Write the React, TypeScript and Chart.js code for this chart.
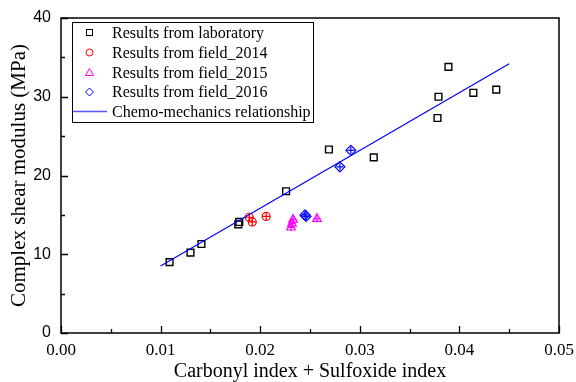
import React, { useEffect, useRef } from "react";
import { Chart, registerables } from "chart.js";

Chart.register(...registerables);

const labX = [0.0109, 0.0130, 0.0141, 0.0178, 0.0179, 0.0226, 0.0269, 0.0314, 0.0378, 0.0379, 0.0389, 0.0414, 0.0437];
const labY = [9.0, 10.2, 11.3, 13.8, 14.1, 18.0, 23.3, 22.3, 27.3, 30.0, 33.8, 30.5, 30.9];

const f14X = [0.0189, 0.0192, 0.0206];
const f14Y = [14.7, 14.1, 14.8];

const f15X = [0.0233, 0.0232, 0.0231, 0.0257];
const f15Y = [14.4, 13.9, 13.4, 14.5];

const f16X = [0.0245, 0.0246, 0.0280, 0.0291];
const f16Y = [15.0, 14.8, 21.1, 23.2];

const lineX = [0.01, 0.045];
const lineY = [8.5, 34.2];

const xTicks = [0, 0.01, 0.02, 0.03, 0.04, 0.05];
const yTicks = [0, 10, 20, 30, 40];

const legendLabels = [
  "Results from laboratory",
  "Results from field_2014",
  "Results from field_2015",
  "Results from field_2016",
  "Chemo-mechanics relationship",
];

const pts = (xs: number[], ys: number[]) => xs.map((x, i) => ({ x, y: ys[i] }));

export default function App() {
  const ref = useRef<HTMLCanvasElement | null>(null);
  useEffect(() => {
    if (!ref.current) return;
    const frameTicks = {
      id: "frameTicks",
      afterDraw(chart: any) {
        const { ctx, chartArea: a, scales } = chart;
        const xs = scales.x;
        const ys = scales.y;
        ctx.save();
        ctx.strokeStyle = "#000";
        ctx.lineWidth = 1.5;
        ctx.strokeRect(a.left, a.top, a.right - a.left, a.bottom - a.top);
        ctx.lineWidth = 1.3;
        ctx.beginPath();
        for (let v = 0; v <= 0.0501; v += 0.005) {
          const px = Math.round(xs.getPixelForValue(v)) + 0.5;
          const major = Math.abs(v / 0.01 - Math.round(v / 0.01)) < 1e-6;
          const len = major ? 7 : 4;
          ctx.moveTo(px, a.bottom);
          ctx.lineTo(px, a.bottom - len);
        }
        for (let v = 0; v <= 40.01; v += 5) {
          const py = Math.round(ys.getPixelForValue(v)) + 0.5;
          const major = v % 10 === 0;
          const len = major ? 7 : 4;
          ctx.moveTo(a.left, py);
          ctx.lineTo(a.left + len, py);
        }
        ctx.stroke();

        // legend
        const bx = 72, by = 22, bw = 241, bh = 100;
        ctx.fillStyle = "#fff";
        ctx.fillRect(bx, by, bw, bh);
        ctx.lineWidth = 1;
        ctx.strokeStyle = "#000";
        ctx.strokeRect(bx + 0.5, by + 0.5, bw, bh);
        const rows = [32.5, 52.5, 72.5, 92, 111.5];
        const mx = 89.5;
        ctx.font = '16px "Liberation Serif", serif';
        ctx.textBaseline = "middle";
        ctx.textAlign = "left";
        ctx.fillStyle = "#000";
        legendLabels.forEach((t, i) => ctx.fillText(t, 112, rows[i] + 1));
        ctx.lineWidth = 1;
        ctx.strokeStyle = "#000";
        ctx.strokeRect(mx - 3, rows[0] - 3, 6, 6);
        ctx.strokeStyle = "#ff0000";
        ctx.beginPath();
        ctx.arc(mx, rows[1], 3.5, 0, Math.PI * 2);
        ctx.stroke();
        ctx.strokeStyle = "#ff00ff";
        ctx.beginPath();
        ctx.moveTo(mx, rows[2] - 4);
        ctx.lineTo(mx + 4, rows[2] + 3);
        ctx.lineTo(mx - 4, rows[2] + 3);
        ctx.closePath();
        ctx.stroke();
        ctx.strokeStyle = "#0000ff";
        ctx.beginPath();
        ctx.moveTo(mx, rows[3] - 4);
        ctx.lineTo(mx + 4, rows[3]);
        ctx.lineTo(mx, rows[3] + 4);
        ctx.lineTo(mx - 4, rows[3]);
        ctx.closePath();
        ctx.stroke();
        ctx.strokeStyle = "#5555ff";
        ctx.lineWidth = 1.5;
        ctx.beginPath();
        ctx.moveTo(73, rows[4]);
        ctx.lineTo(107, rows[4]);
        ctx.stroke();
        ctx.restore();
      },
    };

    const scatter = (data: any, color: string, style: string, r: number, extra: any = {}) => ({
      type: "scatter",
      data,
      pointStyle: style,
      pointRadius: r,
      borderColor: color,
      backgroundColor: "rgba(0,0,0,0)",
      pointBorderWidth: 1.2,
      ...extra,
    });

    const chart = new Chart(ref.current, {
      type: "scatter",
      data: {
        datasets: [
          {
            type: "line",
            data: pts(lineX, lineY),
            borderColor: "#0000ff",
            borderWidth: 1.2,
            pointRadius: 0,
            fill: false,
          } as any,
          scatter(pts(labX, labY), "#000000", "rect", 4.8, { pointBorderWidth: 1.4 }),
          scatter(pts(f14X, f14Y), "#ff0000", "circle", 4),
          scatter(pts(f14X, f14Y), "#ff0000", "cross", 4),
          scatter(pts(f15X, f15Y), "#ff00ff", "triangle", 5),
          scatter(pts(f15X, f15Y), "#ff00ff", "cross", 3.5),
          scatter(pts(f16X, f16Y), "#0000ff", "rectRot", 5),
          scatter(pts(f16X, f16Y), "#0000ff", "cross", 3.5),
        ] as any,
      },
      options: {
        animation: false,
        responsive: false,
        devicePixelRatio: 1,
        layout: { padding: { top: 18, right: 17, left: 0, bottom: 0 } },
        plugins: { legend: { display: false }, tooltip: { enabled: false } },
        scales: {
          x: {
            type: "linear",
            min: 0,
            max: 0.05,
            afterBuildTicks: (s: any) => {
              s.ticks = xTicks.map((v) => ({ value: v }));
            },
            afterFit: (s: any) => {
              s.height = 49;
              s.paddingRight = 0;
              s.paddingLeft = 0;
            },
            grid: { display: false, drawTicks: false },
            border: { display: false },
            ticks: {
              color: "#000",
              padding: 7,
              maxRotation: 0,
              font: { family: '"Liberation Serif", serif', size: 17 },
              callback: (v: any) => Number(v).toFixed(2),
            },
            title: {
              display: true,
              text: "Carbonyl index + Sulfoxide index",
              color: "#000",
              font: { family: '"Liberation Serif", serif', size: 20 },
              padding: { top: 0, bottom: -2 },
            },
          },
          y: {
            type: "linear",
            min: 0,
            max: 40,
            afterBuildTicks: (s: any) => {
              s.ticks = yTicks.map((v) => ({ value: v }));
            },
            afterFit: (s: any) => {
              s.width = 61;
              s.paddingTop = 0;
              s.paddingBottom = 0;
            },
            grid: { display: false, drawTicks: false },
            border: { display: false },
            ticks: {
              color: "#000",
              padding: 10,
              font: { family: '"Liberation Sans", sans-serif', size: 16 },
            },
            title: {
              display: true,
              text: "Complex shear modulus (MPa)",
              color: "#000",
              font: { family: '"Liberation Serif", serif', size: 21 },
              padding: { top: 7, bottom: 0 },
            },
          },
        },
      } as any,
      plugins: [frameTicks],
    });
    return () => chart.destroy();
  }, []);

  return (
    <div style={{ position: "absolute", left: 0, top: 0, width: 576, height: 382, background: "#fff" }}>
      <canvas ref={ref} width={576} height={382} style={{ width: 576, height: 382 }} />
    </div>
  );
}
